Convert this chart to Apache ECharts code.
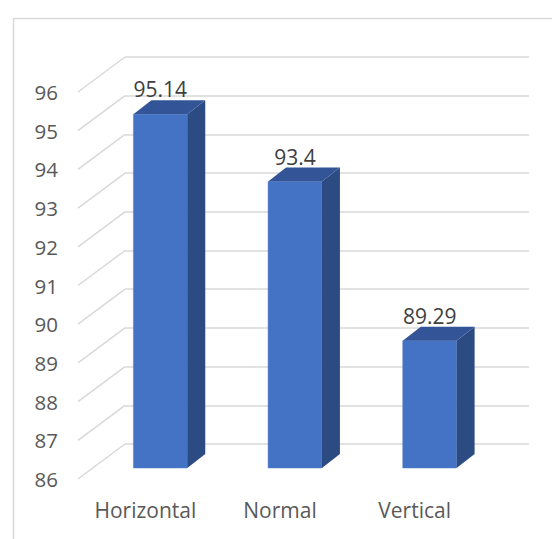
<!DOCTYPE html>
<html>
<head>
<meta charset="utf-8">
<script src="https://cdn.jsdelivr.net/npm/echarts@6/dist/echarts.min.js"></script>
<style>
html, body { margin: 0; padding: 0; background: #fff; }
#main { width: 552px; height: 539px; }
</style>
</head>
<body>
<div id="main"></div>
<script>
// 数据
var categories = ['Horizontal', 'Normal', 'Vertical'];
var values = [95.14, 93.4, 89.29];
var yTicks = [86, 87, 88, 89, 90, 91, 92, 93, 94, 95, 96];
var yMin = 86, yMax = 96;

var myChart = echarts.init(document.getElementById('main'), null, { renderer: 'svg' });

// 伪3D：背墙、柱子正面、前沿 三个相同的grid，互相平移
var floorShift = [-47, 35];   // 背墙 -> 前沿
var depth = [18, -14];        // 柱子正面 -> 柱子背面
var font = 'Open Sans';

function valueAxis(idx, showLabel, showSplit) {
  return {
    type: 'value', gridIndex: idx, min: yMin, max: yMax, interval: 1,
    axisLine: { show: false }, axisTick: { show: false },
    axisLabel: { show: showLabel, margin: 20, color: '#595959', fontSize: 20.5, fontFamily: font },
    splitLine: { show: showSplit, lineStyle: { color: '#d9d9d9', width: 1.5 } }
  };
}
function catAxis(idx, showLabel) {
  return {
    type: 'category', gridIndex: idx, data: categories,
    axisLine: { show: false }, axisTick: { show: false },
    axisLabel: { show: showLabel, margin: 20, color: '#595959', fontSize: 21, fontFamily: font },
    splitLine: { show: false }
  };
}

var option = {
  animation: false,
  graphic: [{
    type: 'rect', left: 11, top: 16, z: -10,
    shape: { width: 560, height: 560 },
    style: { fill: 'none', stroke: '#d9d9d9', lineWidth: 1.5 }
  }],
  grid: [
    { left: 125, top: 57, width: 404, height: 387 },  // 背墙
    { left: 78, top: 92, width: 404, height: 387 },   // 前沿
    { left: 93, top: 81, width: 404, height: 387 }    // 柱子正面
  ],
  xAxis: [catAxis(0, false), catAxis(1, true), catAxis(2, false)],
  yAxis: [valueAxis(0, false, true), valueAxis(1, true, false), valueAxis(2, false, false)],
  series: [
    {
      // 左侧墙上的斜线
      type: 'custom', xAxisIndex: 0, yAxisIndex: 0,
      data: yTicks.map(function (v) { return [0, v]; }),
      renderItem: function (params, api) {
        var p = api.coord([0, api.value(1)]);
        var x = params.coordSys.x;
        return {
          type: 'line',
          shape: { x1: x, y1: p[1], x2: x + floorShift[0], y2: p[1] + floorShift[1] },
          style: { stroke: '#d9d9d9', lineWidth: 1.5 }
        };
      }
    },
    {
      type: 'custom', xAxisIndex: 2, yAxisIndex: 2,
      data: values.map(function (v, i) { return [i, v]; }),
      renderItem: function (params, api) {
        var top = api.coord([api.value(0), api.value(1)]);
        var base = api.coord([api.value(0), yMin]);
        var w = api.size([1, 0])[0] * 0.4;
        var x0 = top[0] - w / 2, x1 = top[0] + w / 2;
        var dx = depth[0], dy = depth[1];
        return {
          type: 'group',
          children: [
            { type: 'rect', shape: { x: x0, y: top[1], width: w, height: base[1] - top[1] },
              style: { fill: '#4472c4', stroke: '#5580cc', lineWidth: 0.5 } },
            { type: 'polygon',
              shape: { points: [[x1, top[1]], [x1 + dx, top[1] + dy], [x1 + dx, base[1] + dy], [x1, base[1]]] },
              style: { fill: '#2c4b82' } },
            { type: 'polygon',
              shape: { points: [[x0, top[1]], [x0 + dx, top[1] + dy], [x1 + dx, top[1] + dy], [x1, top[1]]] },
              style: { fill: '#335597' } },
            { type: 'text', x: top[0], y: top[1] - 25,
              style: { text: String(api.value(1)), align: 'center', verticalAlign: 'middle',
                       fill: '#404040', fontSize: 21, fontFamily: font } }
          ]
        };
      }
    }
  ]
};

myChart.setOption(option);
</script>
</body>
</html>
